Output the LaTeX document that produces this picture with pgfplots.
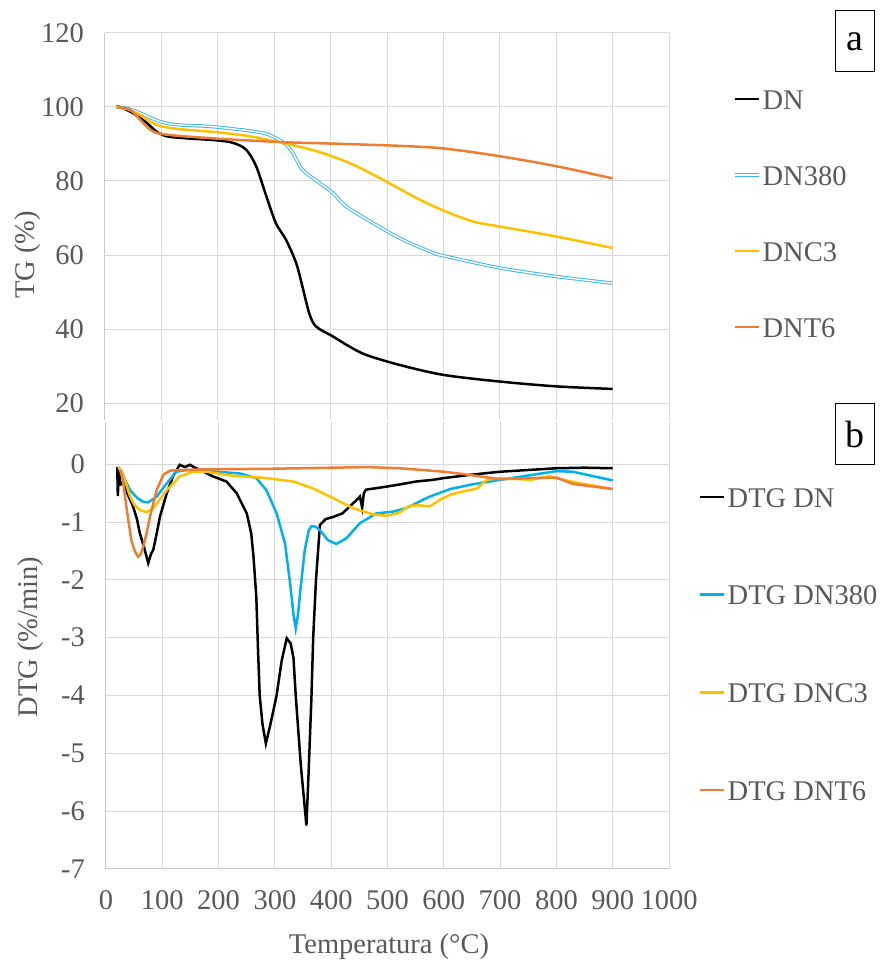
\documentclass[border=0pt]{standalone}
\usepackage{fontspec}
\setmainfont{Liberation Serif}
\usepackage{pgfplots}
\pgfplotsset{compat=1.18}
\definecolor{gridc}{HTML}{D9D9D9}
\definecolor{axc}{HTML}{C8C8C8}
\definecolor{txt}{HTML}{595959}
\definecolor{cblue}{HTML}{00B0F0}
\definecolor{lblue}{HTML}{3FB8EC}
\definecolor{cyel}{HTML}{FFC000}
\definecolor{corg}{HTML}{ED7D31}
\newcommand\fs{\fontsize{28.5}{34}\selectfont}
\pgfplotsset{
 base/.style={
  scale only axis, xmin=0, xmax=1000, xtick={0,100,...,1000},
  grid=major, grid style={gridc, line width=1pt},
  axis lines*=left, axis line style={axc, line width=1pt, -},
  major tick length=0pt,
  tick label style={font=\fs, text=txt},
  /pgf/number format/assume math mode=true,
  /pgf/number format/set thousands separator={},
  label style={font=\fs, text=txt},
  yticklabel style={xshift=-17.5pt},
  xticklabel style={yshift=-18pt},
  legend cell align=left,
  legend image code/.code={\draw[##1] (0pt,0.33em) -- (24pt,0.33em);},
 }
}
\begin{document}
\begin{tikzpicture}
\path[use as bounding box] (0,0) rectangle (884pt,962pt);
\begin{axis}[base, at={(105pt,542pt)}, anchor=south west,
  width=564pt, height=387pt,
  ymin=15.41, ymax=120, ytick={20,40,...,120},
  xticklabels={},
  x axis line style={draw=none},
  ylabel={TG (\%)},
  ylabel style={at={(axis description cs:-0.1374,0.4264)}, anchor=center},
  legend style={at={(axis description cs:1.1135,0.8553)}, anchor=north west,
    draw=none, fill=none, inner sep=0pt, row sep=50pt, column sep=2pt,
    font=\fs, text=txt, nodes={inner sep=0pt, text height=20pt, text depth=6pt}},
]
\addplot[black, line width=2.5pt, smooth] coordinates {
(20,100.2)(30,99.8)(50,98.3)(74,95.7)(91,93.4)(109,92.1)(138,91.6)(197,91)(227,90.3)(250,88.5)(268,84)(286,75.9)(303,68.6)(321,64.1)(339,57.8)(350,51.5)(362,44.3)(374,40.7)(404,38)(433,35.3)(463,33)(522,30.3)(600,27.6)(700,25.8)(800,24.5)(900,23.8)};
\addlegendentry{DN}
\addplot[lblue, line width=1pt, double=white, double distance=1.4pt, smooth] coordinates {
(20,100)(40,99.6)(62,98.4)(97,96.1)(127,95.2)(180,94.8)(227,94.1)(280,93)(303,91.6)(321,89.8)(333,87.6)(350,83.1)(380,79.5)(404,76.8)(427,73.2)(480,68.2)(527,64.2)(580,60.7)(600,59.8)(700,56.5)(800,54.2)(900,52.4)};
\addlegendentry{DN380}
\addplot[cyel, line width=2.5pt, smooth] coordinates {
(20,100)(40,99.4)(62,97.9)(91,95.2)(127,94.1)(197,93.2)(256,92.1)(315,90.3)(374,88.1)(433,84.9)(492,80.4)(551,75.5)(600,72)(654,69)(700,67.7)(800,65)(900,61.9)};
\addlegendentry{DNC3}
\addplot[corg, line width=2.5pt, smooth] coordinates {
(22,100)(44,99.3)(62,96.6)(80,93.9)(97,92.8)(138,92.1)(227,91.2)(315,90.5)(404,90.1)(522,89.5)(600,88.8)(700,86.7)(800,84)(900,80.7)};
\addlegendentry{DNT6}
\end{axis}
\begin{axis}[base, at={(106pt,93pt)}, anchor=south west,
  width=563pt, height=447pt,
  ymin=-7, ymax=0.73, ytick={-7,-6,...,0},
  xlabel={Temperatura (°C)},
  xlabel style={at={(axis description cs:0.5027,-0.1745)}, anchor=center},
  ylabel={DTG (\%/min)},
  ylabel style={at={(axis description cs:-0.1332,0.519)}, anchor=center},
  legend style={at={(axis description cs:1.0533,0.8546)}, anchor=north west,
    draw=none, fill=none, inner sep=0pt, row sep=71.7pt, column sep=2pt,
    font=\fs, text=txt, nodes={inner sep=0pt, text height=20pt, text depth=6pt}},
]
\addplot[black, line width=2.5pt] coordinates {
(20,-0.05)(21,-0.55)(23,-0.1)(26,-0.35)(31,-0.33)(40,-0.55)(48,-0.73)(55,-0.95)(60,-1.19)(68,-1.45)(75,-1.71)(80,-1.55)(84,-1.48)(90,-1.2)(96,-0.9)(108,-0.5)(119,-0.21)(131,-0.01)(140,-0.05)(149,-0.01)(158,-0.06)(167,-0.1)(190,-0.21)(214,-0.3)(232,-0.5)(250,-0.85)(258,-1.2)(262,-1.6)(267,-2.3)(270,-3.2)(273,-4.0)(278,-4.5)(284,-4.83)(292,-4.5)(303,-4.0)(312,-3.4)(321,-3.01)(328,-3.1)(333,-3.35)(337,-4.0)(346,-5.2)(356,-6.25)(360,-5.3)(365,-4.0)(368,-3.0)(373,-2.0)(380,-1.05)(390,-0.95)(404,-0.91)(420,-0.85)(433,-0.73)(445,-0.62)(451,-0.56)(455,-0.75)(458,-0.5)(462,-0.44)(490,-0.4)(522,-0.35)(550,-0.3)(581,-0.27)(600,-0.24)(650,-0.18)(700,-0.13)(750,-0.1)(800,-0.07)(850,-0.06)(900,-0.07)};
\addlegendentry{DTG DN}
\addplot[cblue, line width=2.5pt] coordinates {
(22,-0.05)(28,-0.13)(35,-0.3)(43,-0.45)(55,-0.58)(66,-0.65)(75,-0.66)(90,-0.56)(108,-0.33)(125,-0.13)(143,-0.1)(196,-0.13)(238,-0.16)(267,-0.24)(285,-0.45)(303,-0.85)(318,-1.37)(327,-2.06)(333,-2.6)(337,-2.84)(341,-2.6)(345,-2.2)(353,-1.49)(360,-1.15)(365,-1.07)(372,-1.08)(380,-1.14)(394,-1.31)(409,-1.38)(427,-1.28)(451,-1.02)(480,-0.85)(510,-0.82)(533,-0.76)(575,-0.56)(611,-0.43)(650,-0.35)(700,-0.27)(800,-0.12)(829,-0.13)(900,-0.28)};
\addlegendentry{DTG DN380}
\addplot[cyel, line width=2.5pt] coordinates {
(22,-0.05)(28,-0.13)(36,-0.35)(43,-0.56)(50,-0.7)(60,-0.79)(72,-0.83)(84,-0.76)(108,-0.45)(131,-0.21)(155,-0.13)(178,-0.13)(226,-0.2)(285,-0.24)(333,-0.3)(368,-0.42)(404,-0.59)(439,-0.76)(475,-0.87)(498,-0.89)(521,-0.84)(539,-0.72)(557,-0.71)(575,-0.73)(592,-0.62)(611,-0.53)(630,-0.48)(659,-0.42)(676,-0.27)(700,-0.24)(756,-0.27)(786,-0.21)(812,-0.27)(842,-0.33)(900,-0.43)};
\addlegendentry{DTG DNC3}
\addplot[corg, line width=2.5pt] coordinates {
(25,-0.1)(30,-0.27)(37,-0.79)(45,-1.31)(51,-1.5)(57,-1.6)(62,-1.55)(66,-1.43)(72,-1.2)(78,-0.91)(90,-0.45)(102,-0.18)(114,-0.11)(167,-0.09)(285,-0.08)(404,-0.06)(463,-0.05)(522,-0.07)(600,-0.13)(642,-0.18)(700,-0.26)(760,-0.24)(800,-0.23)(829,-0.34)(900,-0.43)};
\addlegendentry{DTG DNT6}
\end{axis}
\node[draw=black, line width=1pt, minimum width=39pt, minimum height=61pt, inner sep=0pt, font=\fontsize{38}{40}\selectfont] at (854.5pt,920.5pt) {a};
\node[draw=black, line width=1pt, minimum width=39pt, minimum height=61pt, inner sep=0pt, font=\fontsize{38}{40}\selectfont] at (854.5pt,527.5pt) {b};
\end{tikzpicture}
\end{document}
